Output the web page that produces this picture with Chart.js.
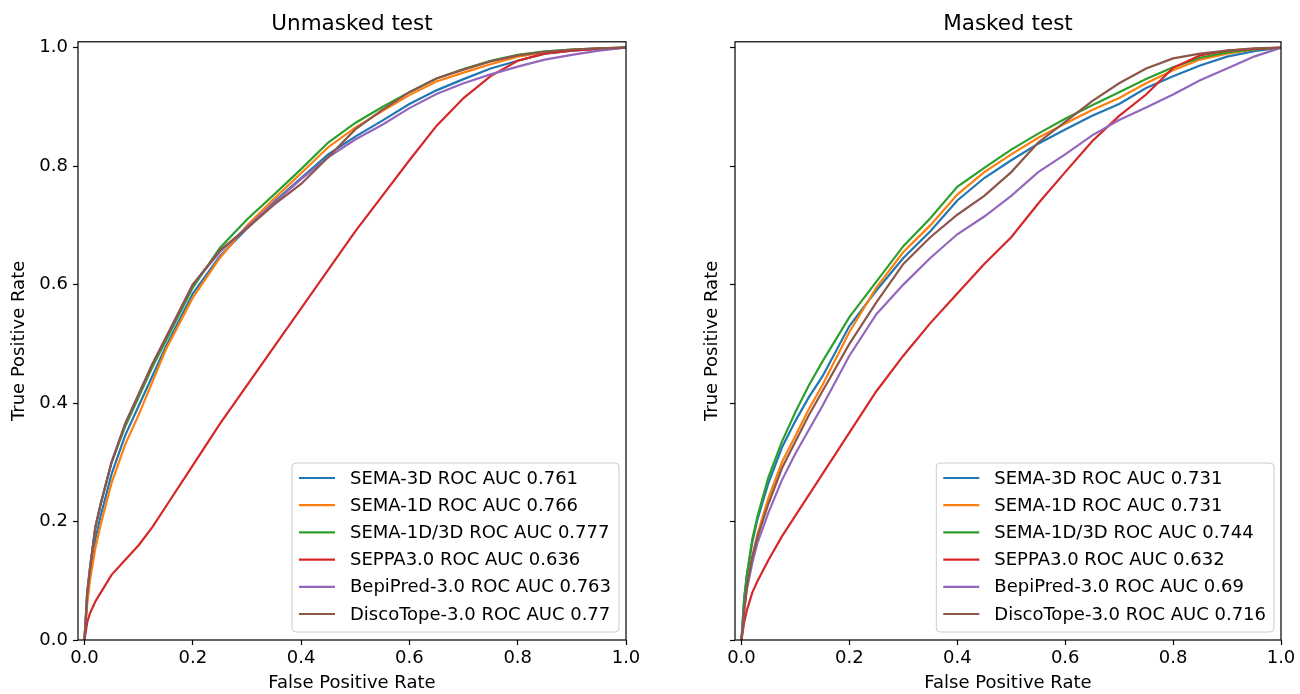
<!DOCTYPE html>
<html>
<head>
<meta charset="utf-8">
<script src="https://cdn.jsdelivr.net/npm/chart.js@4.4.0/dist/chart.umd.min.js"></script>
<style>
    body { margin: 0; background: #fff; }
    .panel { position: absolute; top: 0; width: 650px; height: 694px; }
</style>
</head>
<body>
<div class="panel" style="left:0"><canvas id="unmaskedChart" width="650" height="694"></canvas></div>
<div class="panel" style="left:650px"><canvas id="maskedChart" width="650" height="694"></canvas></div>
<script>
const fpr = [0, 0.005, 0.01, 0.02, 0.03, 0.05, 0.075, 0.1, 0.125, 0.15, 0.2, 0.25, 0.3, 0.35, 0.4, 0.45, 0.5, 0.55, 0.6, 0.65, 0.7, 0.75, 0.8, 0.85, 0.9, 0.95, 1];

const methods = ['SEMA-3D', 'SEMA-1D', 'SEMA-1D/3D', 'SEPPA3.0', 'BepiPred-3.0', 'DiscoTope-3.0'];
const unmaskedAuc = [0.761, 0.766, 0.777, 0.636, 0.763, 0.77];
const maskedAuc = [0.731, 0.731, 0.744, 0.632, 0.69, 0.716];

// unmasked test
const unmaskedSema3d = [0, 0.07, 0.11, 0.17, 0.21, 0.28, 0.345, 0.395, 0.445, 0.495, 0.585, 0.648, 0.695, 0.74, 0.78, 0.82, 0.85, 0.877, 0.905, 0.928, 0.947, 0.965, 0.978, 0.99, 0.995, 0.998, 1];
const unmaskedSema1d = [0, 0.06, 0.1, 0.155, 0.195, 0.265, 0.33, 0.38, 0.435, 0.49, 0.578, 0.645, 0.7, 0.745, 0.788, 0.832, 0.865, 0.893, 0.92, 0.943, 0.958, 0.972, 0.985, 0.992, 0.996, 0.999, 1];
const unmaskedSema13d = [0, 0.08, 0.12, 0.19, 0.23, 0.3, 0.36, 0.41, 0.46, 0.505, 0.595, 0.662, 0.71, 0.752, 0.795, 0.84, 0.873, 0.9, 0.925, 0.948, 0.964, 0.978, 0.988, 0.994, 0.997, 0.999, 1];
const unmaskedSeppa = [0, 0.03, 0.045, 0.065, 0.08, 0.11, 0.135, 0.16, 0.19, 0.225, 0.295, 0.365, 0.43, 0.495, 0.56, 0.625, 0.69, 0.75, 0.81, 0.868, 0.915, 0.952, 0.978, 0.99, 0.995, 0.998, 1];
const unmaskedBepipred = [0, 0.08, 0.12, 0.19, 0.23, 0.3, 0.365, 0.415, 0.465, 0.51, 0.6, 0.655, 0.697, 0.738, 0.778, 0.815, 0.845, 0.87, 0.898, 0.922, 0.94, 0.955, 0.968, 0.98, 0.988, 0.995, 1];
const unmaskedDiscotope = [0, 0.08, 0.12, 0.19, 0.23, 0.3, 0.365, 0.415, 0.465, 0.51, 0.6, 0.658, 0.695, 0.735, 0.77, 0.815, 0.862, 0.895, 0.925, 0.948, 0.963, 0.977, 0.987, 0.993, 0.997, 0.999, 1];

// masked test
const maskedSema3d = [0, 0.07, 0.11, 0.165, 0.205, 0.265, 0.325, 0.37, 0.41, 0.445, 0.53, 0.59, 0.645, 0.69, 0.742, 0.78, 0.81, 0.838, 0.862, 0.885, 0.905, 0.932, 0.952, 0.97, 0.985, 0.994, 1];
const maskedSema1d = [0, 0.05, 0.09, 0.14, 0.18, 0.24, 0.3, 0.345, 0.39, 0.43, 0.52, 0.595, 0.655, 0.7, 0.752, 0.79, 0.82, 0.848, 0.872, 0.895, 0.915, 0.94, 0.962, 0.98, 0.99, 0.997, 1];
const maskedSema13d = [0, 0.07, 0.11, 0.17, 0.21, 0.275, 0.335, 0.385, 0.43, 0.47, 0.545, 0.605, 0.665, 0.712, 0.765, 0.797, 0.828, 0.855, 0.88, 0.903, 0.925, 0.947, 0.967, 0.983, 0.992, 0.997, 1];
const maskedSeppa = [0, 0.03, 0.05, 0.08, 0.1, 0.135, 0.175, 0.21, 0.245, 0.28, 0.35, 0.42, 0.48, 0.535, 0.585, 0.635, 0.68, 0.737, 0.79, 0.842, 0.885, 0.921, 0.966, 0.987, 0.995, 0.998, 1];
const maskedBepipred = [0, 0.05, 0.085, 0.13, 0.165, 0.215, 0.27, 0.315, 0.355, 0.395, 0.48, 0.55, 0.6, 0.645, 0.685, 0.715, 0.75, 0.79, 0.82, 0.852, 0.878, 0.899, 0.921, 0.945, 0.965, 0.985, 1];
const maskedDiscotope = [0, 0.05, 0.09, 0.14, 0.175, 0.23, 0.29, 0.335, 0.38, 0.42, 0.5, 0.57, 0.635, 0.68, 0.718, 0.75, 0.79, 0.84, 0.875, 0.91, 0.94, 0.965, 0.982, 0.99, 0.995, 0.999, 1];

const xTicks = [0, 0.2, 0.4, 0.6, 0.8, 1.0];
const yTicks = [0, 0.2, 0.4, 0.6, 0.8, 1.0];

const colors = ['#1f77b4', '#ff7f0e', '#2ca02c', '#d62728', '#9467bd', '#8c564b'];

Chart.defaults.font.family = '"DejaVu Sans", sans-serif';
Chart.defaults.color = '#000';

// matplotlib style frame round the plot area
const framePlugin = {
    id: 'frame',
    afterDraw(chart) {
        const { ctx, chartArea: a } = chart;
        ctx.save();
        ctx.strokeStyle = '#000';
        ctx.lineWidth = 1.2;
        ctx.strokeRect(a.left, a.top, a.right - a.left, a.bottom - a.top);
        ctx.restore();
    }
};

// legend box in the lower right corner of the plot area
const legendPlugin = {
    id: 'insideLegend',
    afterDatasetsDraw(chart) {
        const { ctx, chartArea: a } = chart;
        const sets = chart.data.datasets;
        ctx.save();
        ctx.font = '18px "DejaVu Sans"';
        const textW = Math.max(...sets.map(d => ctx.measureText(d.label).width));
        const rowH = 27.2;
        const boxW = 7 + 36 + 15 + textW + 8;
        const boxH = 169;
        const x0 = a.right - 7 - boxW;
        const y0 = a.bottom - 8 - boxH;

        ctx.beginPath();
        ctx.roundRect(x0, y0, boxW, boxH, 4);
        ctx.fillStyle = 'rgba(255,255,255,0.8)';
        ctx.fill();
        ctx.strokeStyle = '#cccccc';
        ctx.lineWidth = 1;
        ctx.stroke();

        sets.forEach((d, i) => {
            const cy = y0 + 15 + i * rowH;
            ctx.beginPath();
            ctx.moveTo(x0 + 7, cy);
            ctx.lineTo(x0 + 43, cy);
            ctx.strokeStyle = d.borderColor;
            ctx.lineWidth = 2.2;
            ctx.stroke();
            ctx.fillStyle = '#000';
            ctx.textBaseline = 'middle';
            ctx.fillText(d.label, x0 + 58, cy + 1);
        });
        ctx.restore();
    }
};

const makeDatasets = (series, aucs) => series.map((tpr, i) => ({
    label: `${methods[i]} ROC AUC ${aucs[i]}`,
    data: fpr.map((x, j) => ({ x: x, y: tpr[j] })),
    borderColor: colors[i],
    backgroundColor: colors[i],
    borderWidth: 2.2,
    pointRadius: 0,
    tension: 0,
    fill: false,
    order: 6 - i
}));

const renderChart = (canvasId, title, series, aucs, yLabels, yAxisWidth, yTitlePad, rightPad) => {
    const ctx = document.getElementById(canvasId).getContext('2d');
    return new Chart(ctx, {
        type: 'line',
        data: { datasets: makeDatasets(series, aucs) },
        options: {
            responsive: false,
            animation: false,
            layout: { padding: { left: 0, right: rightPad, top: 0, bottom: 0 } },
            plugins: {
                legend: { display: false },
                tooltip: { enabled: false },
                title: {
                    display: true,
                    text: title,
                    fullSize: false,
                    font: { size: 21.5, weight: 'normal' },
                    padding: { top: 12, bottom: 4 }
                }
            },
            scales: {
                x: {
                    type: 'linear',
                    min: -0.012,
                    max: 1.0,
                    afterBuildTicks: s => { s.ticks = xTicks.map(v => ({ value: v })); },
                    afterFit: s => { s.height = 54; },
                    ticks: {
                        autoSkip: false,
                        maxRotation: 0,
                        padding: 3,
                        font: { size: 18 },
                        callback: v => v.toFixed(1)
                    },
                    grid: { drawOnChartArea: false, drawTicks: true, tickLength: 5, tickColor: '#000', tickWidth: 1.2 },
                    border: { display: false },
                    title: { display: true, text: 'False Positive Rate', font: { size: 18 }, padding: { top: 0, bottom: 0 } }
                },
                y: {
                    type: 'linear',
                    min: 0,
                    max: 1.01,
                    afterBuildTicks: s => { s.ticks = yTicks.map(v => ({ value: v })); },
                    afterFit: s => { s.width = yAxisWidth; },
                    ticks: {
                        autoSkip: false,
                        padding: 5,
                        font: { size: 18 },
                        callback: v => (yLabels ? v.toFixed(1) : '')
                    },
                    grid: { drawOnChartArea: false, drawTicks: true, tickLength: 5, tickColor: '#000', tickWidth: 1.2 },
                    border: { display: false },
                    title: { display: true, text: 'True Positive Rate', font: { size: 18 }, padding: { top: yTitlePad, bottom: 0 } }
                }
            }
        },
        plugins: [legendPlugin, framePlugin]
    });
};

renderChart('unmaskedChart', 'Unmasked test',
    [unmaskedSema3d, unmaskedSema1d, unmaskedSema13d, unmaskedSeppa, unmaskedBepipred, unmaskedDiscotope],
    unmaskedAuc, true, 78, 9, 24);

renderChart('maskedChart', 'Masked test',
    [maskedSema3d, maskedSema1d, maskedSema13d, maskedSeppa, maskedBepipred, maskedDiscotope],
    maskedAuc, false, 85, 52, 19);
</script>
</body>
</html>
